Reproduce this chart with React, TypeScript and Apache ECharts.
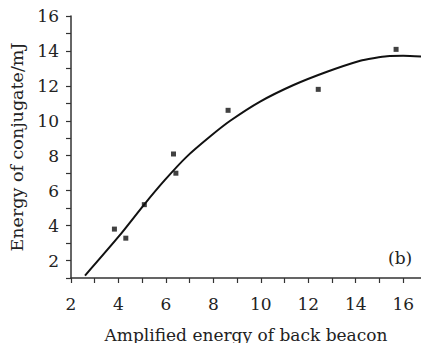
import React, { useEffect, useRef } from "react";
import * as echarts from "echarts";

const scatterX = [3.83, 4.31, 5.09, 6.32, 6.42, 8.62, 12.42, 15.7];
const scatterY = [3.8, 3.28, 5.2, 8.1, 7.0, 10.6, 11.8, 14.09];

const curveX = [2.59, 4.03, 5.05, 5.95, 6.88, 7.86, 8.71, 9.97, 11.38, 12.79, 14.19, 14.8, 15.32, 16.0, 16.75];
const curveY = [1.14, 3.41, 5.15, 6.6, 7.95, 9.1, 10.0, 11.1, 12.05, 12.81, 13.44, 13.6, 13.7, 13.72, 13.68];

const xLabel = "Amplified energy of back beacon";
const yLabel = "Energy of conjugate/mJ";
const panelTag = "(b)";

const FONT = "DejaVu Serif";

export default function App() {
  const ref = useRef<HTMLDivElement>(null);
  useEffect(() => {
    if (!ref.current) return;
    const chart = echarts.init(ref.current, null, { renderer: "svg" });
    const axisCommon = {
      axisLine: { show: true, lineStyle: { color: "#333", width: 1.5 } },
      axisTick: { show: true, inside: false, length: 5, lineStyle: { color: "#333", width: 1.2 } },
      splitLine: { show: false },
    };
    const fmt = (v: number) => (Math.abs(v % 2) < 1e-9 ? String(v) : "");
    chart.setOption({
      animation: false,
      backgroundColor: "#fff",
      textStyle: { fontFamily: FONT },
      grid: {
        left: 71,
        right: 0,
        top: 16,
        bottom: 65,
        containLabel: false,
        outerBoundsMode: "none",
      },
      xAxis: {
        type: "value",
        min: 2,
        max: 16.75,
        interval: 1,
        name: xLabel,
        nameLocation: "middle",
        nameGap: 48,
        nameTextStyle: { fontFamily: FONT, fontSize: 17, color: "#222" },
        ...axisCommon,
        axisLabel: {
          formatter: fmt,
          showMaxLabel: false,
          margin: 17,
          fontFamily: FONT,
          fontSize: 17,
          color: "#222",
        },
      },
      yAxis: {
        type: "value",
        min: 1,
        max: 16,
        interval: 1,
        name: yLabel,
        nameLocation: "middle",
        nameGap: 43,
        nameTextStyle: { fontFamily: FONT, fontSize: 17.5, color: "#222" },
        ...axisCommon,
        axisLabel: {
          formatter: fmt,
          margin: 12,
          fontFamily: FONT,
          fontSize: 17,
          color: "#222",
        },
      },
      graphic: [
        {
          type: "text",
          left: 388,
          top: 249,
          style: { text: panelTag, fontFamily: FONT, fontSize: 17, fill: "#222" },
        },
      ],
      series: [
        {
          type: "line",
          data: curveX.map((x, i) => [x, curveY[i]]),
          smooth: 0.25,
          showSymbol: false,
          lineStyle: { color: "#111", width: 2 },
        },
        {
          type: "scatter",
          data: scatterX.map((x, i) => [x, scatterY[i]]),
          symbol: "rect",
          symbolSize: 5,
          itemStyle: { color: "#111" },
        },
      ],
    });
    return () => chart.dispose();
  }, []);
  return (
    <div
      ref={ref}
      style={{ position: "absolute", left: 0, top: 0, width: 421, height: 343 }}
    />
  );
}
